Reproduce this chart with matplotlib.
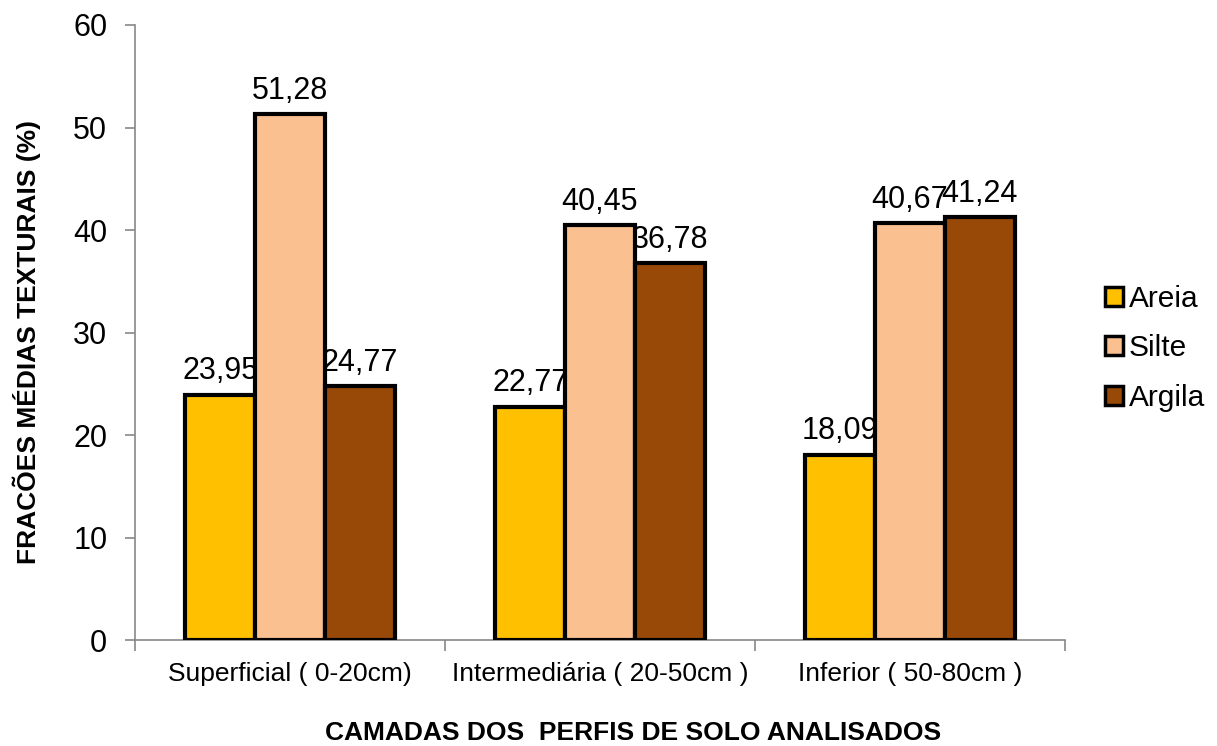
import numpy as np
import matplotlib.pyplot as plt

plt.rcParams['font.family'] = ['Liberation Sans', 'DejaVu Sans']

camadas = ['Superficial ( 0-20cm)', 'Intermediária ( 20-50cm )', 'Inferior ( 50-80cm )']
fracoes = ['Areia', 'Silte', 'Argila']
areia = [23.95, 22.77, 18.09]
silte = [51.28, 40.45, 40.67]
argila = [24.77, 36.78, 41.24]
cores = ['#FFC000', '#FAC090', '#984807']

fig = plt.figure(figsize=(12.17, 7.46), dpi=100)
ax = fig.add_axes([0.111, 0.142, 0.764, 0.8245])

x = np.arange(len(camadas))
w = 0.225
for i, (vals, nome, cor) in enumerate(zip([areia, silte, argila], fracoes, cores)):
    pos = x + (i - 1) * w
    ax.bar(pos, vals, w, color=cor, edgecolor='black', linewidth=3, label=nome, zorder=3)
    for xp, v in zip(pos, vals):
        ax.annotate(f'{v:.2f}'.replace('.', ','), (xp, v), xytext=(0, 6),
                    textcoords='offset points', ha='center', va='bottom',
                    fontsize=22, zorder=4)

ax.set_xlim(-0.5, 2.5)
ax.set_ylim(0, 60)
ax.set_yticks(range(0, 61, 10))
ax.tick_params(axis='y', labelsize=22, length=7, color='#888888', width=1.2, pad=13)

# categorias no centro, marcas de divisão entre grupos
ax.set_xticks(x)
ax.set_xticklabels(camadas, fontsize=19)
ax.tick_params(axis='x', length=0, pad=16)
ax.set_xticks([-0.5, 0.5, 1.5, 2.5], minor=True)
ax.tick_params(axis='x', which='minor', length=8, color='#888888', width=1.2)

for s in ['top', 'right']:
    ax.spines[s].set_visible(False)
for s in ['left', 'bottom']:
    ax.spines[s].set_color('#888888')
    ax.spines[s].set_linewidth(1.2)

fig.text(0.022, 0.541, 'FRACÕES MÉDIAS TEXTURAIS (%)', rotation=90, ha='center', va='center',
         fontsize=19, fontweight='bold')
fig.text(0.52, 0.0174, 'CAMADAS DOS  PERFIS DE SOLO ANALISADOS', ha='center', va='center',
         fontsize=19, fontweight='bold')

leg = fig.legend(loc='center left', bbox_to_anchor=(0.898, 0.533), frameon=False,
                 fontsize=21.5, handlelength=0.6, handleheight=0.6, handletextpad=0.2,
                 labelspacing=0.72, borderaxespad=0)
for h in leg.legend_handles:
    h.set_linewidth(2.5)

fig.savefig('out.png', dpi=100)
